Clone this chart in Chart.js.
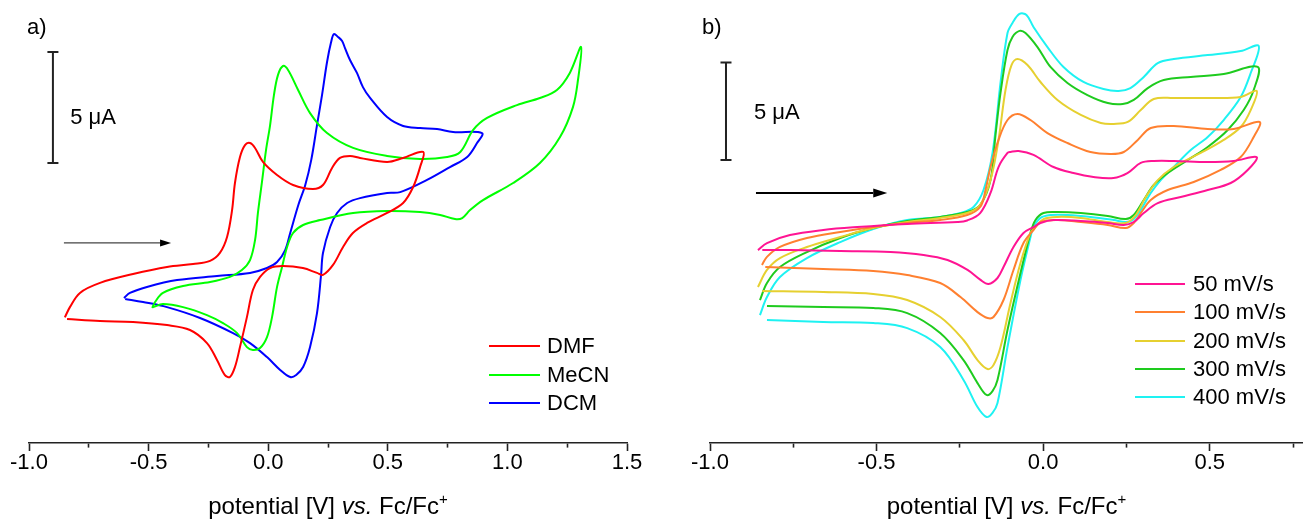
<!DOCTYPE html>
<html>
<head>
<meta charset="utf-8">
<script src="https://cdn.jsdelivr.net/npm/chart.js@4.4.1/dist/chart.umd.min.js"></script>
<style>
  html, body { margin: 0; padding: 0; background: #fff; overflow: hidden; width: 1303px; height: 524px; }
  canvas { position: absolute; top: 0; }
  #ca { left: 0; }
  #cb { left: 650px; }
</style>
</head>
<body>
<canvas id="ca" width="650" height="524"></canvas>
<canvas id="cb" width="653" height="524"></canvas>
<script>
// ---------------- Panel a: solvents (potential V vs Fc/Fc+, current µA) ----------------
const dmfV = [-0.850,-0.829,-0.787,-0.703,-0.565,-0.423,-0.314,-0.243,-0.202,-0.172,-0.151,-0.139,-0.118,-0.097,-0.076,-0.055,-0.022,0.037,0.104,0.187,0.229,0.267,0.300,0.342,0.384,0.497,0.564,0.648,
  0.635,0.606,0.564,0.497,0.413,0.354,0.313,0.271,0.229,0.204,0.145,0.062,0.008,-0.034,-0.064,-0.089,-0.118,-0.139,-0.160,-0.181,-0.214,-0.256,-0.327,-0.423,-0.565,-0.703,-0.841];
const dmfI = [-0.78,-0.32,0.32,0.77,1.17,1.49,1.62,1.76,2.12,2.84,4.05,5.27,6.44,6.98,7.07,6.85,6.22,5.63,5.18,5.00,5.18,5.95,6.40,6.49,6.40,6.22,6.40,6.67,
  5.99,5.09,4.37,3.92,3.47,3.02,2.39,1.58,1.13,1.22,1.44,1.53,1.44,1.04,0.45,-0.77,-2.12,-3.02,-3.47,-3.38,-2.70,-1.94,-1.35,-1.13,-0.99,-0.95,-0.86];

const mecnV = [-0.485,-0.473,-0.440,-0.356,-0.243,-0.160,-0.110,-0.076,-0.055,-0.043,-0.026,-0.009,0.008,0.024,0.041,0.062,0.083,0.125,0.175,0.246,0.355,0.497,0.635,0.748,0.803,0.857,0.915,1.040,1.136,1.207,1.261,1.308,
  1.295,1.274,1.220,1.136,1.024,0.898,0.844,0.811,0.781,0.719,0.635,0.497,0.355,0.217,0.146,0.104,0.079,0.058,0.037,0.016,-0.005,-0.034,-0.064,-0.089,-0.130,-0.189,-0.256,-0.356,-0.440,-0.481];
const mecnI = [-0.36,-0.09,0.32,0.63,0.81,1.04,1.35,1.80,2.70,3.92,5.32,6.76,7.88,9.23,10.14,10.54,10.36,9.46,8.42,7.52,6.85,6.49,6.35,6.44,6.67,7.66,8.20,8.78,9.10,9.46,10.23,11.40,
  9.91,8.69,7.34,6.17,5.27,4.50,4.05,3.69,3.65,3.83,3.96,4.01,3.92,3.60,3.38,3.02,2.39,1.49,0.59,-0.77,-1.67,-2.16,-2.25,-2.12,-1.49,-1.04,-0.68,-0.32,-0.18,-0.32];

const dcmV = [-0.603,-0.578,-0.507,-0.381,-0.214,-0.076,-0.005,0.037,0.071,0.092,0.126,0.155,0.180,0.204,0.225,0.246,0.263,0.275,0.292,0.309,0.321,0.342,0.371,0.396,0.426,0.497,0.564,0.635,0.706,0.773,0.894,
  0.873,0.832,0.760,0.664,0.552,0.497,0.384,0.330,0.288,0.259,0.229,0.221,0.204,0.175,0.146,0.117,0.092,0.050,-0.005,-0.076,-0.147,-0.285,-0.423,-0.523,-0.598];
const dcmI = [0.09,0.32,0.59,0.90,1.08,1.22,1.44,1.71,2.25,3.02,4.28,5.18,6.31,7.88,9.23,10.72,11.62,11.98,11.85,11.67,11.35,10.81,10.23,9.59,9.10,8.24,7.84,7.75,7.70,7.57,7.52,
  7.07,6.44,5.99,5.41,4.86,4.82,4.59,4.37,3.92,3.29,2.12,1.13,-0.59,-2.12,-3.02,-3.38,-3.47,-3.15,-2.57,-1.94,-1.49,-0.81,-0.32,-0.09,0.05];

const solventLabels = ['DMF', 'MeCN', 'DCM'];

// ---------------- Panel b: scan rates ----------------
const r50V = [-0.856,-0.829,-0.760,-0.660,-0.558,-0.408,-0.257,-0.228,-0.189,-0.158,-0.134,-0.107,-0.098,-0.074,-0.029,0.031,0.091,0.151,0.211,0.253,0.293,0.332,0.392,0.494,0.572,0.641,
  0.614,0.563,0.494,0.413,0.344,0.302,0.272,0.242,0.194,0.113,0.031,-0.008,-0.029,-0.059,-0.089,-0.119,-0.137,-0.164,-0.188,-0.227,-0.287,-0.359,-0.458,-0.609,-0.759,-0.843];
const r50I = [-1.03,-0.67,-0.26,0.00,0.15,0.31,0.41,0.49,0.87,1.90,3.23,3.95,4.00,4.05,3.85,3.23,2.92,2.72,2.67,2.92,3.44,3.54,3.54,3.49,3.54,3.74,
  3.08,2.41,2.05,1.69,1.38,0.87,0.41,0.26,0.36,0.46,0.51,0.36,0.15,-0.15,-0.87,-1.90,-2.46,-2.77,-2.56,-2.05,-1.54,-1.28,-1.13,-1.08,-1.03,-1.03];

const r100V = [-0.844,-0.829,-0.790,-0.709,-0.609,-0.510,-0.408,-0.309,-0.228,-0.189,-0.173,-0.158,-0.134,-0.107,-0.077,-0.038,0.013,0.073,0.142,0.202,0.242,0.284,0.323,0.392,0.494,0.572,0.650,
  0.632,0.593,0.533,0.452,0.374,0.323,0.293,0.272,0.248,0.194,0.113,0.043,-0.008,-0.029,-0.059,-0.089,-0.119,-0.149,-0.167,-0.197,-0.248,-0.309,-0.408,-0.510,-0.660,-0.834];
const r100I = [-1.79,-1.38,-0.87,-0.41,-0.10,0.15,0.36,0.51,0.77,1.18,2.05,3.23,4.62,5.64,5.95,5.64,4.97,4.46,4.00,3.90,4.00,4.62,5.23,5.33,5.18,5.18,5.54,
  4.77,3.74,3.08,2.46,2.05,1.54,0.87,0.36,0.10,0.26,0.41,0.51,0.41,0.00,-0.67,-2.05,-3.59,-4.46,-4.51,-4.21,-3.44,-2.72,-2.31,-2.10,-2.00,-1.90];

const r200V = [-0.856,-0.829,-0.790,-0.709,-0.609,-0.510,-0.408,-0.309,-0.228,-0.189,-0.158,-0.134,-0.113,-0.095,-0.077,-0.047,-0.008,0.043,0.113,0.173,0.212,0.254,0.293,0.332,0.392,0.494,0.593,0.641,
  0.623,0.593,0.542,0.473,0.392,0.344,0.308,0.278,0.248,0.194,0.113,0.043,0.001,-0.023,-0.038,-0.068,-0.098,-0.128,-0.149,-0.167,-0.197,-0.239,-0.309,-0.408,-0.510,-0.660,-0.843];
const r200I = [-2.92,-2.05,-1.44,-0.87,-0.36,0.10,0.41,0.62,0.87,1.28,2.56,4.62,7.18,8.46,8.77,8.46,7.59,6.67,5.90,5.49,5.44,5.54,6.15,6.72,6.77,6.77,6.82,7.13,
  6.15,5.28,4.62,3.95,3.23,2.56,1.69,0.77,0.36,0.41,0.62,0.67,0.56,0.15,-0.15,-1.69,-3.74,-6.00,-6.92,-7.13,-6.67,-5.64,-4.46,-3.59,-3.28,-3.18,-3.13];

const r300V = [-0.850,-0.829,-0.790,-0.709,-0.609,-0.510,-0.408,-0.309,-0.228,-0.189,-0.158,-0.143,-0.128,-0.107,-0.092,-0.071,-0.053,-0.017,0.022,0.073,0.133,0.194,0.239,0.272,0.314,0.362,0.443,0.542,0.644,
  0.632,0.602,0.554,0.494,0.434,0.374,0.332,0.302,0.272,0.248,0.194,0.113,0.043,0.001,-0.023,-0.038,-0.068,-0.107,-0.137,-0.152,-0.170,-0.197,-0.239,-0.309,-0.408,-0.510,-0.660,-0.829];
const r300I = [-3.59,-2.72,-1.90,-1.13,-0.41,0.10,0.46,0.67,0.92,1.28,2.56,4.87,7.03,9.23,9.90,10.21,10.10,9.38,8.36,7.54,6.92,6.51,6.46,6.67,7.28,7.69,7.85,8.00,8.36,
  7.18,6.15,5.13,4.26,3.59,2.92,2.31,1.54,0.77,0.56,0.72,0.87,0.92,0.87,0.51,-0.15,-2.21,-5.13,-7.69,-8.26,-8.46,-7.85,-6.67,-5.28,-4.26,-4.00,-3.95,-3.90];

const r400V = [-0.850,-0.829,-0.790,-0.709,-0.609,-0.510,-0.408,-0.309,-0.248,-0.209,-0.179,-0.152,-0.128,-0.107,-0.092,-0.071,-0.050,-0.029,0.013,0.061,0.121,0.181,0.226,0.262,0.302,0.344,0.392,0.494,0.593,0.647,
  0.623,0.593,0.542,0.494,0.443,0.392,0.353,0.323,0.293,0.269,0.248,0.212,0.142,0.073,0.022,-0.008,-0.029,-0.038,-0.068,-0.107,-0.137,-0.152,-0.170,-0.197,-0.239,-0.309,-0.408,-0.510,-0.660,-0.829];
const r400I = [-4.36,-3.44,-2.41,-1.44,-0.62,0.05,0.51,0.67,0.87,1.18,2.05,3.95,7.54,10.10,10.62,11.08,11.03,10.41,9.38,8.36,7.59,7.23,7.13,7.28,7.85,8.56,8.77,8.97,9.18,9.44,
  8.05,6.82,5.64,4.77,4.10,3.23,2.56,1.90,1.03,0.51,0.41,0.51,0.67,0.77,0.77,0.62,0.15,-0.36,-2.56,-6.00,-8.87,-9.38,-9.59,-9.08,-7.69,-6.00,-5.03,-4.77,-4.72,-4.62];

const rateLabels = ['50 mV/s', '100 mV/s', '200 mV/s', '300 mV/s', '400 mV/s'];

// tick values (V)
const ticksA = [-1.0,-0.75,-0.5,-0.25,0.0,0.25,0.5,0.75,1.0,1.25,1.5];
const ticksB = [-1.0,-0.75,-0.5,-0.25,0.0,0.25,0.5,0.75];

// ---------------- helpers ----------------
const FONT = '"Liberation Sans", Arial, Helvetica, sans-serif';
Chart.defaults.font.family = FONT;
const pts = (V, I) => V.map((v, i) => ({ x: v, y: I[i] }));
const isMajor = v => Math.abs(v * 2 - Math.round(v * 2)) < 1e-9;

function ds(label, V, I, color) {
  return { label, data: pts(V, I), borderColor: color, backgroundColor: color, borderWidth: 2,
    pointRadius: 0, showLine: true, fill: false, tension: 0.35, clip: false };
}

function xAxis(min, max, tickVals) {
  return {
    type: 'linear', position: 'bottom', min, max,
    afterBuildTicks: s => { s.ticks = tickVals.map(v => ({ value: v })); },
    afterFit: s => { s.height = 81; },
    border: { display: true, color: '#222', width: 1.6 },
    grid: {
      display: true, drawOnChartArea: false, drawTicks: true, tickLength: 8,
      tickColor: '#222', tickWidth: 1.6,
      tickBorderDash: c => (c.tick && isMajor(c.tick.value)) ? [] : [4, 40]
    },
    ticks: {
      autoSkip: false, maxRotation: 0, minRotation: 0, padding: 1, color: '#000',
      font: { size: 22, lineHeight: 1.0 },
      callback: v => isMajor(v) ? v.toFixed(1) : ''
    },
    title: { display: false }
  };
}

const annot = {
  id: 'annot',
  afterDraw(chart, args, o) {
    const ctx = chart.ctx, xs = chart.scales.x, ys = chart.scales.y;
    ctx.save();
    // scale bar (5 µA in data units)
    const bx = xs.getPixelForValue(o.bar.x);
    const b0 = ys.getPixelForValue(o.bar.y0), b1 = ys.getPixelForValue(o.bar.y0 + o.bar.len);
    ctx.strokeStyle = '#222'; ctx.lineWidth = 2; ctx.lineCap = 'butt';
    ctx.beginPath();
    ctx.moveTo(bx, b0); ctx.lineTo(bx, b1);
    ctx.moveTo(bx - 5.5, b0); ctx.lineTo(bx + 5.5, b0);
    ctx.moveTo(bx - 5.5, b1); ctx.lineTo(bx + 5.5, b1);
    ctx.stroke();
    ctx.fillStyle = '#000'; ctx.font = '22px ' + FONT; ctx.textAlign = 'left'; ctx.textBaseline = 'middle';
    ctx.fillText('5 μA', xs.getPixelForValue(o.barLabel.x), ys.getPixelForValue(o.barLabel.y));
    // scan direction arrow
    const ax0 = xs.getPixelForValue(o.arrow.x0), ax1 = xs.getPixelForValue(o.arrow.x1), ay = ys.getPixelForValue(o.arrow.y);
    ctx.strokeStyle = o.arrow.color; ctx.lineWidth = o.arrow.width;
    ctx.beginPath(); ctx.moveTo(ax0, ay); ctx.lineTo(ax1 - o.arrow.head, ay); ctx.stroke();
    ctx.fillStyle = '#000';
    ctx.beginPath(); ctx.moveTo(ax1, ay); ctx.lineTo(ax1 - o.arrow.head, ay - o.arrow.half);
    ctx.lineTo(ax1 - o.arrow.head, ay + o.arrow.half); ctx.closePath(); ctx.fill();
    // panel letter
    ctx.fillStyle = '#000'; ctx.font = '22px ' + FONT; ctx.textBaseline = 'middle'; ctx.textAlign = 'left';
    ctx.fillText(o.letter.text, o.letter.x, o.letter.y);
    // legend
    chart.data.datasets.forEach((d, i) => {
      const y = o.legend.rows[i];
      ctx.strokeStyle = d.borderColor; ctx.lineWidth = 2;
      ctx.beginPath(); ctx.moveTo(o.legend.x0, y); ctx.lineTo(o.legend.x1, y); ctx.stroke();
      ctx.fillStyle = '#000'; ctx.font = '22px ' + FONT;
      ctx.fillText(d.label, o.legend.tx, y + 1);
    });
    // axis title with italic "vs." and superscript "+"
    const segs = [
      { t: 'potential [V] ', f: '24px ' + FONT, dy: 0 },
      { t: 'vs.', f: 'italic 24px ' + FONT, dy: 0 },
      { t: ' Fc/Fc', f: '24px ' + FONT, dy: 0 },
      { t: '+', f: '15px ' + FONT, dy: -10 }
    ];
    let w = 0;
    segs.forEach(s => { ctx.font = s.f; s.w = ctx.measureText(s.t).width; w += s.w; });
    let tx = (xs.left + xs.right) / 2 - w / 2;
    ctx.textBaseline = 'alphabetic'; ctx.fillStyle = '#000';
    segs.forEach(s => { ctx.font = s.f; ctx.fillText(s.t, tx, o.titleY + s.dy); tx += s.w; });
    ctx.restore();
  }
};

function baseOptions(xmin, xmax, tickVals, ymin, ymax, pad, ann) {
  return {
    responsive: false, animation: false, events: [],
    layout: { padding: pad },
    scales: {
      x: xAxis(xmin, xmax, tickVals),
      y: { type: 'linear', display: false, min: ymin, max: ymax }
    },
    plugins: { legend: { display: false }, tooltip: { enabled: false }, annot: ann }
  };
}

new Chart(document.getElementById('ca'), {
  type: 'scatter',
  data: { datasets: [
    ds(solventLabels[0], dmfV, dmfI, '#ff0000'),
    ds(solventLabels[1], mecnV, mecnI, '#00ff00'),
    ds(solventLabels[2], dcmV, dcmI, '#0000ff')
  ] },
  options: baseOptions(-1.0, 1.5, ticksA, -6.441, 13.514, { left: 29, right: 23, top: 0, bottom: 0 }, {
    bar: { x: -0.900, y0: 6.17, len: 5 },
    barLabel: { x: -0.828, y: 8.20 },
    arrow: { x0: -0.854, x1: -0.406, y: 2.57, color: '#444', width: 1.2, head: 11, half: 3.5 },
    letter: { text: 'a)', x: 27, y: 28 },
    legend: { x0: 489, x1: 540, tx: 547, rows: [346, 375, 403] },
    titleY: 514
  }),
  plugins: [annot]
});

new Chart(document.getElementById('cb'), {
  type: 'scatter',
  data: { datasets: [
    ds(rateLabels[0], r50V, r50I, '#ff1493'),
    ds(rateLabels[1], r100V, r100I, '#ff8030'),
    ds(rateLabels[2], r200V, r200I, '#e6d030'),
    ds(rateLabels[3], r300V, r300I, '#1ecb1e'),
    ds(rateLabels[4], r400V, r400I, '#1ef2f2')
  ] },
  options: baseOptions(-1.0, 0.78, ticksB, -10.923, 11.795, { left: 60, right: 0, top: 0, bottom: 0 }, {
    bar: { x: -0.952, y0: 3.59, len: 5 },
    barLabel: { x: -0.868, y: 6.0 },
    arrow: { x0: -0.862, x1: -0.468, y: 1.90, color: '#000', width: 2, head: 14, half: 4.5 },
    letter: { text: 'b)', x: 52, y: 28 },
    legend: { x0: 485, x1: 535, tx: 543, rows: [284, 312, 341, 369, 397] },
    titleY: 514
  }),
  plugins: [annot]
});
</script>
</body>
</html>
